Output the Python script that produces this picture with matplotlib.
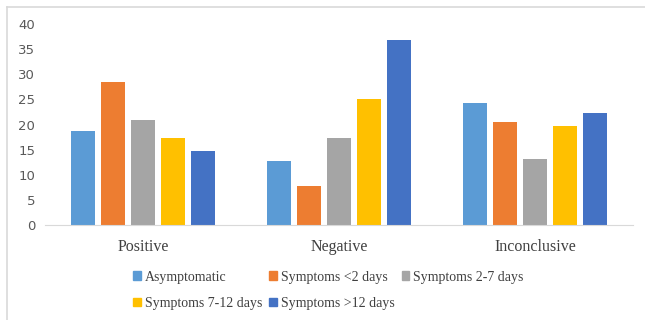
import numpy as np
import matplotlib.pyplot as plt
from matplotlib.lines import Line2D
from matplotlib.patches import Patch

# Data
categories = ["Positive", "Negative", "Inconclusive"]
series_names = ["Asymptomatic", "Symptoms <2 days", "Symptoms 2-7 days",
                "Symptoms 7-12 days", "Symptoms >12 days"]
asymptomatic = [18.8, 12.7, 24.3]
sym_lt2 = [28.5, 7.8, 20.4]
sym_2_7 = [20.9, 17.4, 13.1]
sym_7_12 = [17.3, 25.1, 19.8]
sym_gt12 = [14.7, 36.8, 22.2]
colors = ["#5b9bd5", "#ed7d31", "#a5a5a5", "#ffc000", "#4472c4"]

values = [asymptomatic, sym_lt2, sym_2_7, sym_7_12, sym_gt12]

fig = plt.figure(figsize=(6.45, 3.2), dpi=100)
ax = fig.add_axes([45 / 645, 95 / 320, 588 / 645, 201 / 320])

x = np.arange(len(categories))
step = 0.153
width = 0.122
for i, (vals, c) in enumerate(zip(values, colors)):
    ax.bar(x + (i - 2) * step, vals, width, color=c, label=series_names[i])

ax.set_xlim(-0.5, 2.5)
ax.set_ylim(0, 40)
ax.set_yticks(range(0, 41, 5))
ax.set_xticks(x)
ax.set_xticklabels(categories, fontfamily="Liberation Serif", fontsize=11.5,
                   color="#404040")
ax.tick_params(axis="x", length=0, pad=10)
ax.tick_params(axis="y", length=0, labelsize=9.5, labelcolor="#595959", pad=7)
for lbl in ax.get_yticklabels():
    lbl.set_fontfamily("DejaVu Sans")
for s in ["top", "right", "left"]:
    ax.spines[s].set_visible(False)
ax.spines["bottom"].set_color("#d9d9d9")

# legend, row-wise order
handles = [Patch(color=c) for c in colors]
order = [0, 3, 1, 4, 2]
leg = ax.legend([handles[k] for k in order], [series_names[k] for k in order],
                ncol=3, loc="center", bbox_to_anchor=(0.482, -0.325),
                frameon=False, handlelength=0.55, handleheight=0.55,
                handletextpad=0.3, columnspacing=0.5, labelspacing=0.98,
                prop={"family": "Liberation Serif", "size": 10})
for t in leg.get_texts():
    t.set_color("#404040")

# chart border (top and left)
fig.add_artist(Line2D([7 / 645, 1], [1 - 7 / 320, 1 - 7 / 320],
                      transform=fig.transFigure, color="#d9d9d9", lw=1.2))
fig.add_artist(Line2D([7 / 645, 7 / 645], [0, 1 - 7 / 320],
                      transform=fig.transFigure, color="#d9d9d9", lw=1.2))

fig.savefig("out.png", dpi=100)
